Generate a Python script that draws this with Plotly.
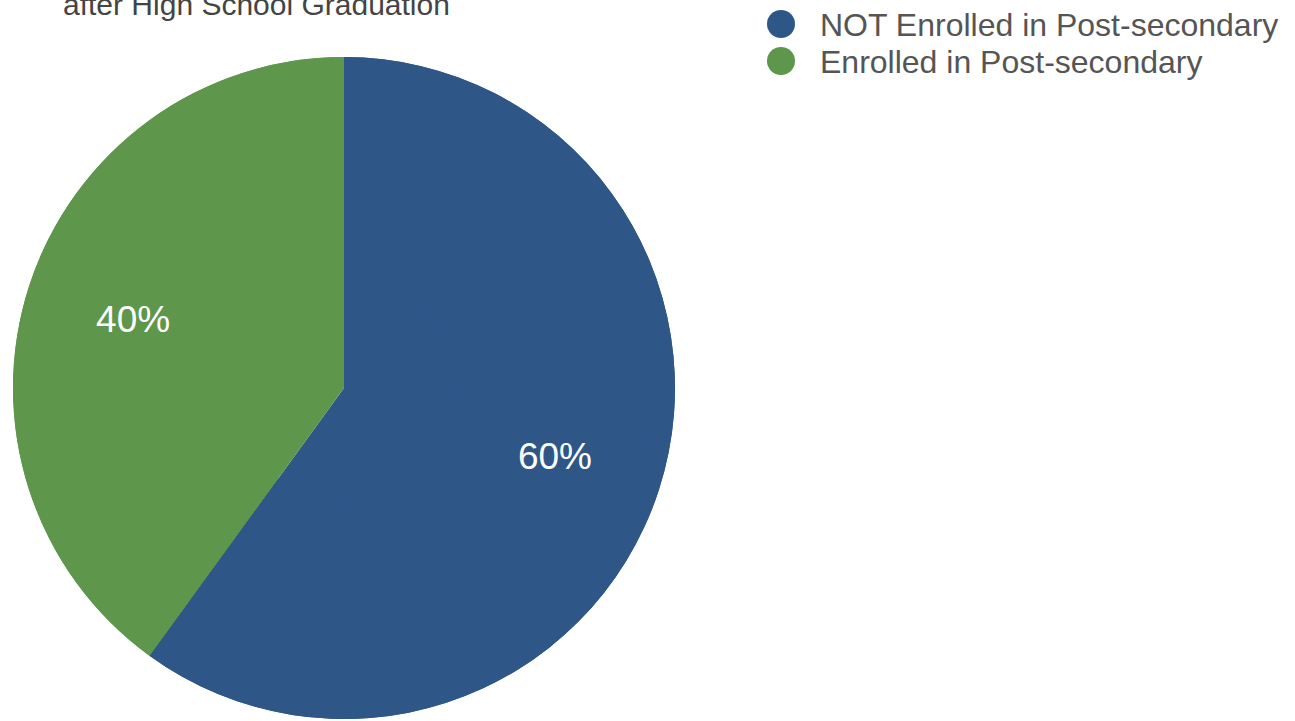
import plotly.graph_objects as go

labels = ["NOT Enrolled in Post-secondary", "Enrolled in Post-secondary"]
values = [60, 40]
colors = ["#2e5788", "#5e964b"]
title_line = "after High School Graduation"

W, H = 1295, 721
FONT = "Liberation Sans, Arial, sans-serif"
dom = dict(x=[12 / W, 676 / W], y=[(H - 719) / H, (H - 57) / H])

fig = go.Figure()
# full pie (no text)
fig.add_trace(go.Pie(
    labels=labels, values=values, sort=False, direction="clockwise", rotation=0,
    marker=dict(colors=colors, line=dict(width=0)),
    textinfo="none", showlegend=False, hoverinfo="skip", domain=dom,
))
# ring overlay carrying the percentage labels further out
fig.add_trace(go.Pie(
    labels=labels, values=values, sort=False, direction="clockwise", rotation=0,
    hole=0.34,
    marker=dict(colors=colors, line=dict(width=0)),
    textinfo="percent", textposition="inside", insidetextorientation="horizontal",
    textfont=dict(family=FONT, size=37, color="white"),
    showlegend=False, domain=dom,
))

annotations = [dict(
    text=title_line, xref="paper", yref="paper", x=256 / W, y=(H - 23) / H,
    xanchor="center", yanchor="bottom", showarrow=False,
    font=dict(family=FONT, size=30, color="#444444"),
)]
shapes = []
row_y = [24, 61]
for lab, col, yy in zip(labels, colors, row_y):
    shapes.append(dict(type="circle", xref="paper", yref="paper",
                       x0=767 / W, x1=795 / W, y0=(H - yy - 14) / H, y1=(H - yy + 14) / H,
                       fillcolor=col, line=dict(width=0)))
    annotations.append(dict(text=lab, xref="paper", yref="paper", x=818 / W, y=(H - yy - 1) / H,
                            xanchor="left", yanchor="middle", showarrow=False,
                            font=dict(family=FONT, size=32, color="#555555")))

fig.update_layout(
    width=W, height=H, margin=dict(l=0, r=0, t=0, b=0),
    paper_bgcolor="white", plot_bgcolor="white",
    annotations=annotations, shapes=shapes,
)
fig.write_html("out.html", config={"displayModeBar": False},
               post_script="document.body.style.margin='0';")
